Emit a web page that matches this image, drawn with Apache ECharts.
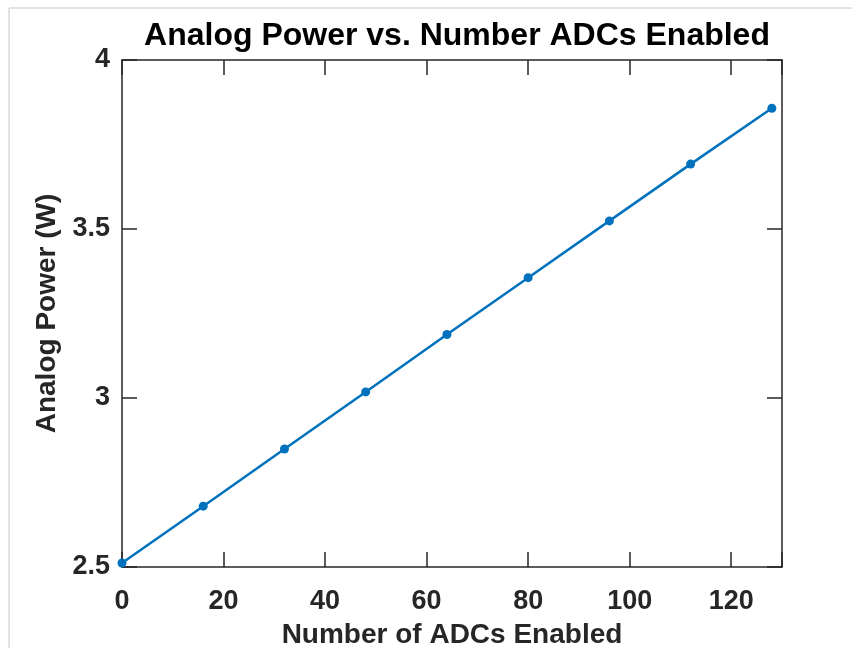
<!DOCTYPE html>
<html><head><meta charset="utf-8">
<script src="https://cdn.jsdelivr.net/npm/echarts@6/dist/echarts.min.js"></script>
<style>html,body{margin:0;padding:0;background:#fff}#c{width:852px;height:648px}</style>
</head><body><div id="c"></div>
<script>
const adcCounts = [0, 16, 32, 48, 64, 80, 96, 112, 128];
const powerW = [2.512, 2.680, 2.849, 3.018, 3.188, 3.356, 3.524, 3.692, 3.857];
const xTicks = [0, 20, 40, 60, 80, 100, 120];
const yTicks = [2.5, 3, 3.5, 4];
const titleText = 'Analog Power vs. Number ADCs Enabled';
const xName = 'Number of ADCs Enabled';
const yName = 'Analog Power (W)';

const font = 'Liberation Sans, Arial, sans-serif';
const axisCol = '#262626';
const chart = echarts.init(document.getElementById('c'), null, {renderer: 'canvas'});
const axLine = () => ({show: true, onZero: false, lineStyle: {color: axisCol, width: 1.5}});
const tickIn = () => ({show: true, inside: true, length: 15, lineStyle: {color: axisCol, width: 1.5}});
chart.setOption({
  animation: false,
  backgroundColor: '#fff',
  title: {text: titleText, left: 452, top: 15, textAlign: 'center',
    textStyle: {fontFamily: font, fontWeight: 'bold', fontSize: 32, color: '#000'}},
  grid: {left: 122, top: 60, right: 70, bottom: 81, outerBoundsMode: 'none', containLabel: false},
  xAxis: [{
    type: 'value', min: 0, max: 130, interval: 20, position: 'bottom',
    name: xName, nameLocation: 'middle', nameGap: 54,
    nameTextStyle: {fontFamily: font, fontWeight: 'bold', fontSize: 28, color: '#262626'},
    axisLine: axLine(), axisTick: tickIn(), splitLine: {show: false},
    axisLabel: {fontFamily: font, fontWeight: 'bold', fontSize: 27, color: '#262626', margin: 21,
      formatter: v => xTicks.includes(v) ? String(v) : ''}
  }, {
    type: 'value', min: 0, max: 130, interval: 20, position: 'top',
    axisLine: axLine(), axisTick: tickIn(), splitLine: {show: false}, axisLabel: {show: false}
  }],
  yAxis: [{
    type: 'value', min: 2.5, max: 4, interval: 0.5, position: 'left',
    name: yName, nameLocation: 'middle', nameGap: 48, nameRotate: 90,
    nameTextStyle: {fontFamily: font, fontWeight: 'bold', fontSize: 28, color: '#262626'},
    axisLine: axLine(), axisTick: tickIn(), splitLine: {show: false},
    axisLabel: {fontFamily: font, fontWeight: 'bold', fontSize: 27, color: '#262626', margin: 12,
      formatter: v => yTicks.includes(v) ? String(v) : ''}
  }, {
    type: 'value', min: 2.5, max: 4, interval: 0.5, position: 'right',
    axisLine: axLine(), axisTick: tickIn(), splitLine: {show: false}, axisLabel: {show: false}
  }, {
    type: 'value', min: 2.5, max: 4, interval: 0.5, position: 'right', offset: -660,
    axisLine: {show: false, onZero: false},
    axisTick: {show: true, inside: false, length: 15, lineStyle: {color: axisCol, width: 1.5}},
    splitLine: {show: false}, axisLabel: {show: false}
  }],
  graphic: [
    {type: 'line', shape: {x1: 9, y1: 8, x2: 852, y2: 8}, style: {stroke: '#c8c8c8', lineWidth: 1}, silent: true},
    {type: 'line', shape: {x1: 9, y1: 8, x2: 9, y2: 648}, style: {stroke: '#c8c8c8', lineWidth: 1}, silent: true}
  ],
  series: [{
    type: 'line', xAxisIndex: 0, yAxisIndex: 0,
    data: adcCounts.map((x, i) => [x, powerW[i]]),
    symbol: 'circle', symbolSize: 9, clip: false,
    lineStyle: {color: '#0072BD', width: 2.5},
    itemStyle: {color: '#0072BD'}
  }]
});
</script></body></html>
